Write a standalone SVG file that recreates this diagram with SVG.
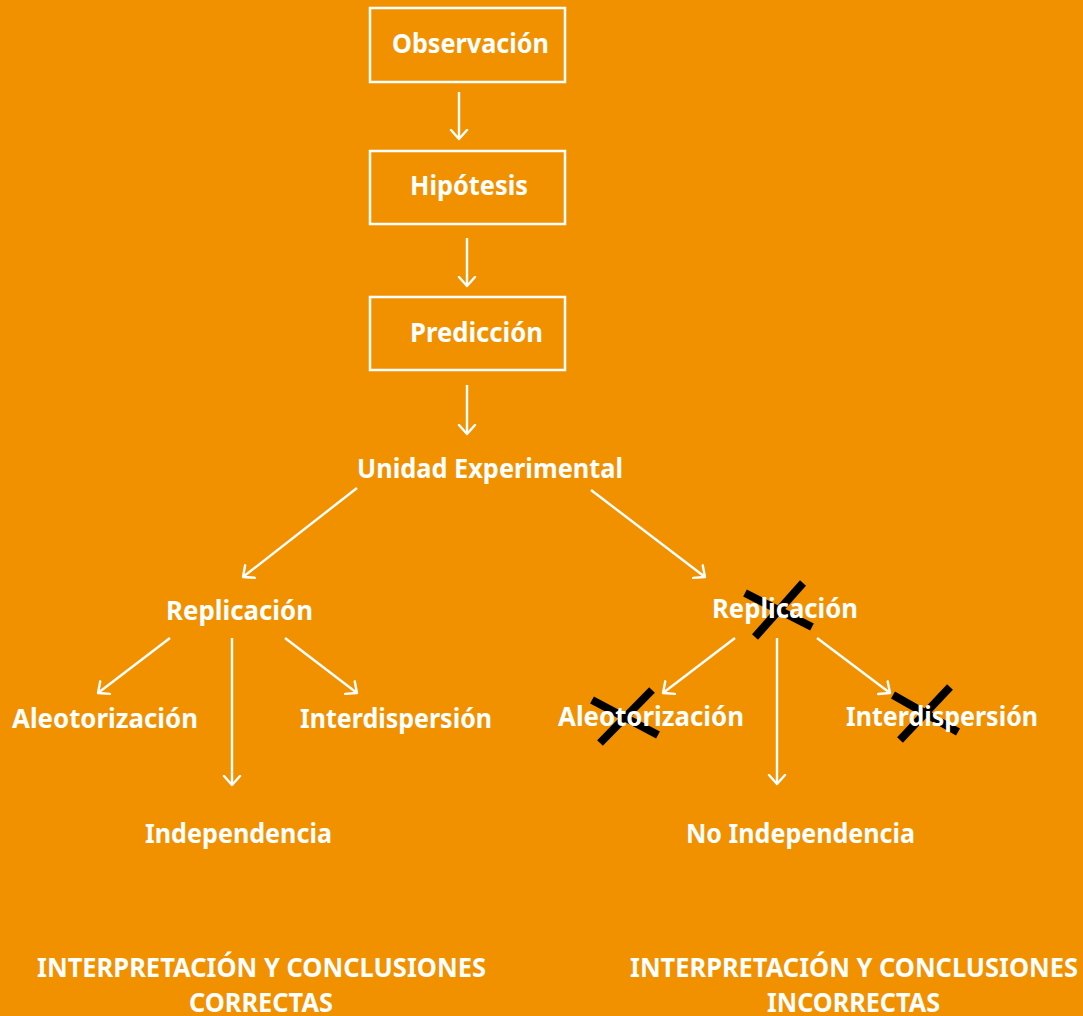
<svg xmlns="http://www.w3.org/2000/svg" width="1083" height="1016" viewBox="0 0 1083 1016">
  <defs>
    <marker id="arrow" viewBox="0 0 20 20" refX="10" refY="10" markerWidth="20" markerHeight="20" markerUnits="userSpaceOnUse" orient="auto">
      <polyline points="1,2 10,10 1,18" fill="none" stroke="#ffffff" stroke-width="2.4" stroke-linecap="round" stroke-linejoin="round"/>
    </marker>
    <style>
      .box { fill: none; stroke: #ffffff; stroke-width: 2.5; }
      .lbl { font-family: "Noto Sans", "Open Sans", "Liberation Sans", sans-serif; font-weight: bold; font-size: 27px; fill: #ffffff; }
      .con { stroke: #ffffff; stroke-width: 2.4; fill: none; marker-end: url(#arrow); }
      .cross { stroke: #000000; stroke-width: 8; stroke-linecap: butt; }
    </style>
  </defs>

  <rect x="0" y="0" width="1083" height="1016" fill="#F29100"/>

  <!-- connectors -->
  <g id="connectors">
    <line class="con" x1="459" y1="92" x2="459" y2="139"/>
    <line class="con" x1="467" y1="238" x2="467" y2="286"/>
    <line class="con" x1="467" y1="385" x2="467" y2="434"/>
    <line class="con" x1="357" y1="488" x2="243" y2="577"/>
    <line class="con" x1="591" y1="490" x2="705" y2="577"/>
    <line class="con" x1="170" y1="638" x2="98" y2="693"/>
    <line class="con" x1="232" y1="638" x2="232" y2="785"/>
    <line class="con" x1="285" y1="638" x2="357" y2="693"/>
    <line class="con" x1="735" y1="638" x2="663" y2="693"/>
    <line class="con" x1="777" y1="638" x2="777" y2="784"/>
    <line class="con" x1="817" y1="638" x2="890" y2="693"/>
  </g>

  <!-- black crosses sit under the labels they strike out -->
  <g id="crosses">
    <line class="cross" x1="745" y1="593" x2="812" y2="627"/>
    <line class="cross" x1="803" y1="583" x2="755" y2="637"/>
    <line class="cross" x1="592" y1="700" x2="658" y2="735"/>
    <line class="cross" x1="652" y1="690" x2="600" y2="743"/>
    <line class="cross" x1="893" y1="695" x2="958" y2="732"/>
    <line class="cross" x1="950" y1="687" x2="900" y2="740"/>
  </g>

  <g id="observacion">
    <rect class="box" x="370" y="8" width="195" height="74"/>
    <text class="lbl" x="392" y="53" textLength="157" lengthAdjust="spacingAndGlyphs">Observación</text>
  </g>
  <g id="hipotesis">
    <rect class="box" x="370" y="151" width="195" height="73"/>
    <text class="lbl" x="410" y="195" textLength="118" lengthAdjust="spacingAndGlyphs">Hipótesis</text>
  </g>
  <g id="prediccion">
    <rect class="box" x="370" y="297" width="195" height="73"/>
    <text class="lbl" x="410" y="342" textLength="133" lengthAdjust="spacingAndGlyphs">Predicción</text>
  </g>

  <g id="unidad-experimental">
    <text class="lbl" x="357" y="478" textLength="266" lengthAdjust="spacingAndGlyphs">Unidad Experimental</text>
  </g>

  <!-- left branch -->
  <g id="replicacion-izq">
    <text class="lbl" x="166" y="620" textLength="147" lengthAdjust="spacingAndGlyphs">Replicación</text>
  </g>
  <g id="aleotorizacion-izq">
    <text class="lbl" x="12" y="728" textLength="186" lengthAdjust="spacingAndGlyphs">Aleotorización</text>
  </g>
  <g id="interdispersion-izq">
    <text class="lbl" x="300" y="728" textLength="192" lengthAdjust="spacingAndGlyphs">Interdispersión</text>
  </g>
  <g id="independencia">
    <text class="lbl" x="145" y="843" textLength="187" lengthAdjust="spacingAndGlyphs">Independencia</text>
  </g>

  <!-- right branch -->
  <g id="replicacion-der">
    <text class="lbl" x="712" y="618" textLength="146" lengthAdjust="spacingAndGlyphs">Replicación</text>
  </g>
  <g id="aleotorizacion-der">
    <text class="lbl" x="558" y="726" textLength="186" lengthAdjust="spacingAndGlyphs">Aleotorización</text>
  </g>
  <g id="interdispersion-der">
    <text class="lbl" x="846" y="726" textLength="192" lengthAdjust="spacingAndGlyphs">Interdispersión</text>
  </g>
  <g id="no-independencia">
    <text class="lbl" x="686" y="843" textLength="229" lengthAdjust="spacingAndGlyphs">No Independencia</text>
  </g>

  <!-- conclusions -->
  <g id="conclusiones-correctas">
    <text class="lbl" x="37" y="977" textLength="449" lengthAdjust="spacingAndGlyphs">INTERPRETACIÓN Y CONCLUSIONES</text>
    <text class="lbl" x="189" y="1012" textLength="144" lengthAdjust="spacingAndGlyphs">CORRECTAS</text>
  </g>
  <g id="conclusiones-incorrectas">
    <text class="lbl" x="630" y="977" textLength="448" lengthAdjust="spacingAndGlyphs">INTERPRETACIÓN Y CONCLUSIONES</text>
    <text class="lbl" x="767" y="1012" textLength="173" lengthAdjust="spacingAndGlyphs">INCORRECTAS</text>
  </g>
</svg>
